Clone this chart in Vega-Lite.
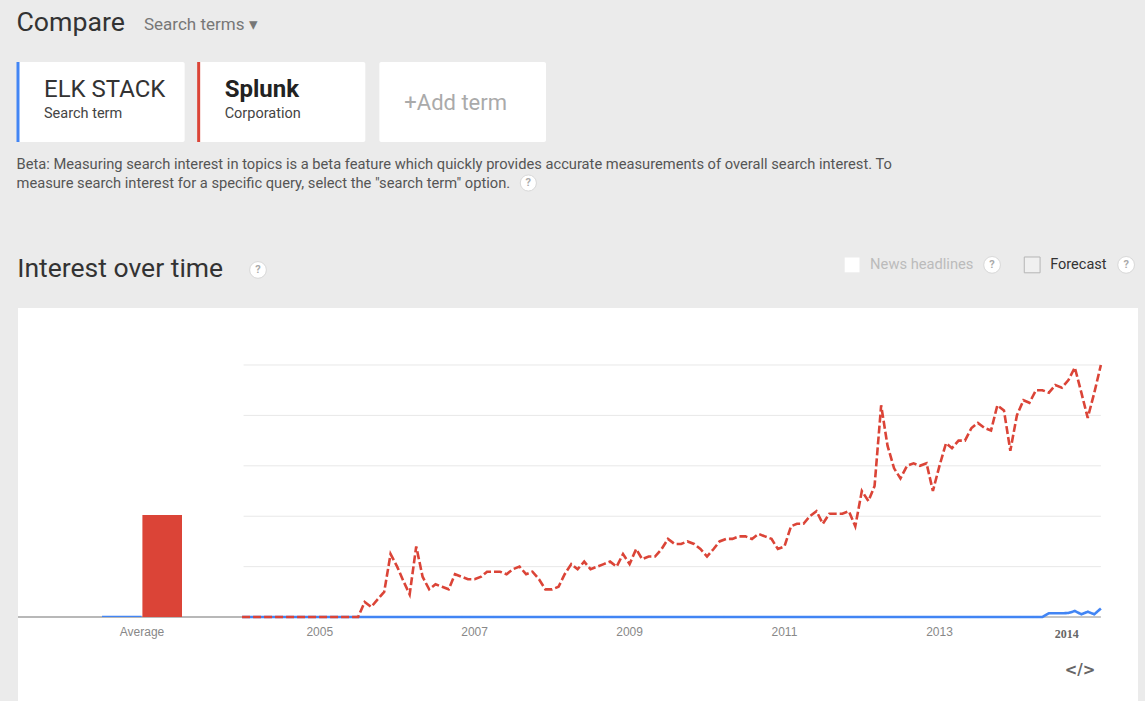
{
  "$schema": "https://vega.github.io/schema/vega-lite/v6.json",
  "background": "#ebebeb",
  "padding": {"left": 16, "top": 10, "right": 9, "bottom": 0},
  "bounds": "flush",
  "spacing": 166,
  "title": {"text": "Compare", "anchor": "start", "fontSize": 26.7, "fontWeight": "normal", "font": "Roboto", "color": "#333", "offset": -21},
  "config": {"view": {"stroke": null}, "font": "Roboto",
    "axisX": {"offset": -84, "domain": false, "ticks": false, "grid": false, "labelPadding": 9, "labelColor": "#888", "labelFontSize": 12, "labelFont": "Liberation Sans", "labelAngle": 0}},
  "datasets": {
    "trends": [
      {"month": "2004-01-01", "ELK STACK": 0, "Splunk": 0},
      {"month": "2004-02-01", "ELK STACK": 0, "Splunk": 0},
      {"month": "2004-03-01", "ELK STACK": 0, "Splunk": 0},
      {"month": "2004-04-01", "ELK STACK": 0, "Splunk": 0},
      {"month": "2004-05-01", "ELK STACK": 0, "Splunk": 0},
      {"month": "2004-06-01", "ELK STACK": 0, "Splunk": 0},
      {"month": "2004-07-01", "ELK STACK": 0, "Splunk": 0},
      {"month": "2004-08-01", "ELK STACK": 0, "Splunk": 0},
      {"month": "2004-09-01", "ELK STACK": 0, "Splunk": 0},
      {"month": "2004-10-01", "ELK STACK": 0, "Splunk": 0},
      {"month": "2004-11-01", "ELK STACK": 0, "Splunk": 0},
      {"month": "2004-12-01", "ELK STACK": 0, "Splunk": 0},
      {"month": "2005-01-01", "ELK STACK": 0, "Splunk": 0},
      {"month": "2005-02-01", "ELK STACK": 0, "Splunk": 0},
      {"month": "2005-03-01", "ELK STACK": 0, "Splunk": 0},
      {"month": "2005-04-01", "ELK STACK": 0, "Splunk": 0},
      {"month": "2005-05-01", "ELK STACK": 0, "Splunk": 0},
      {"month": "2005-06-01", "ELK STACK": 0, "Splunk": 0},
      {"month": "2005-07-01", "ELK STACK": 0, "Splunk": 0},
      {"month": "2005-08-01", "ELK STACK": 0, "Splunk": 6},
      {"month": "2005-09-01", "ELK STACK": 0, "Splunk": 4},
      {"month": "2005-10-01", "ELK STACK": 0, "Splunk": 7},
      {"month": "2005-11-01", "ELK STACK": 0, "Splunk": 10},
      {"month": "2005-12-01", "ELK STACK": 0, "Splunk": 25},
      {"month": "2006-01-01", "ELK STACK": 0, "Splunk": 20},
      {"month": "2006-02-01", "ELK STACK": 0, "Splunk": 14},
      {"month": "2006-03-01", "ELK STACK": 0, "Splunk": 9},
      {"month": "2006-04-01", "ELK STACK": 0, "Splunk": 28},
      {"month": "2006-05-01", "ELK STACK": 0, "Splunk": 16},
      {"month": "2006-06-01", "ELK STACK": 0, "Splunk": 11},
      {"month": "2006-07-01", "ELK STACK": 0, "Splunk": 13},
      {"month": "2006-08-01", "ELK STACK": 0, "Splunk": 12},
      {"month": "2006-09-01", "ELK STACK": 0, "Splunk": 11},
      {"month": "2006-10-01", "ELK STACK": 0, "Splunk": 17},
      {"month": "2006-11-01", "ELK STACK": 0, "Splunk": 16},
      {"month": "2006-12-01", "ELK STACK": 0, "Splunk": 15},
      {"month": "2007-01-01", "ELK STACK": 0, "Splunk": 15},
      {"month": "2007-02-01", "ELK STACK": 0, "Splunk": 16},
      {"month": "2007-03-01", "ELK STACK": 0, "Splunk": 18},
      {"month": "2007-04-01", "ELK STACK": 0, "Splunk": 18},
      {"month": "2007-05-01", "ELK STACK": 0, "Splunk": 18},
      {"month": "2007-06-01", "ELK STACK": 0, "Splunk": 17},
      {"month": "2007-07-01", "ELK STACK": 0, "Splunk": 19},
      {"month": "2007-08-01", "ELK STACK": 0, "Splunk": 20},
      {"month": "2007-09-01", "ELK STACK": 0, "Splunk": 17},
      {"month": "2007-10-01", "ELK STACK": 0, "Splunk": 18},
      {"month": "2007-11-01", "ELK STACK": 0, "Splunk": 15},
      {"month": "2007-12-01", "ELK STACK": 0, "Splunk": 11},
      {"month": "2008-01-01", "ELK STACK": 0, "Splunk": 11},
      {"month": "2008-02-01", "ELK STACK": 0, "Splunk": 12},
      {"month": "2008-03-01", "ELK STACK": 0, "Splunk": 17},
      {"month": "2008-04-01", "ELK STACK": 0, "Splunk": 21},
      {"month": "2008-05-01", "ELK STACK": 0, "Splunk": 19},
      {"month": "2008-06-01", "ELK STACK": 0, "Splunk": 22},
      {"month": "2008-07-01", "ELK STACK": 0, "Splunk": 19},
      {"month": "2008-08-01", "ELK STACK": 0, "Splunk": 20},
      {"month": "2008-09-01", "ELK STACK": 0, "Splunk": 21},
      {"month": "2008-10-01", "ELK STACK": 0, "Splunk": 22},
      {"month": "2008-11-01", "ELK STACK": 0, "Splunk": 20},
      {"month": "2008-12-01", "ELK STACK": 0, "Splunk": 25},
      {"month": "2009-01-01", "ELK STACK": 0, "Splunk": 21},
      {"month": "2009-02-01", "ELK STACK": 0, "Splunk": 27},
      {"month": "2009-03-01", "ELK STACK": 0, "Splunk": 23},
      {"month": "2009-04-01", "ELK STACK": 0, "Splunk": 24},
      {"month": "2009-05-01", "ELK STACK": 0, "Splunk": 24},
      {"month": "2009-06-01", "ELK STACK": 0, "Splunk": 27},
      {"month": "2009-07-01", "ELK STACK": 0, "Splunk": 31},
      {"month": "2009-08-01", "ELK STACK": 0, "Splunk": 29},
      {"month": "2009-09-01", "ELK STACK": 0, "Splunk": 29},
      {"month": "2009-10-01", "ELK STACK": 0, "Splunk": 30},
      {"month": "2009-11-01", "ELK STACK": 0, "Splunk": 29},
      {"month": "2009-12-01", "ELK STACK": 0, "Splunk": 27},
      {"month": "2010-01-01", "ELK STACK": 0, "Splunk": 24},
      {"month": "2010-02-01", "ELK STACK": 0, "Splunk": 27},
      {"month": "2010-03-01", "ELK STACK": 0, "Splunk": 30},
      {"month": "2010-04-01", "ELK STACK": 0, "Splunk": 31},
      {"month": "2010-05-01", "ELK STACK": 0, "Splunk": 31},
      {"month": "2010-06-01", "ELK STACK": 0, "Splunk": 32},
      {"month": "2010-07-01", "ELK STACK": 0, "Splunk": 32},
      {"month": "2010-08-01", "ELK STACK": 0, "Splunk": 31},
      {"month": "2010-09-01", "ELK STACK": 0, "Splunk": 33},
      {"month": "2010-10-01", "ELK STACK": 0, "Splunk": 32},
      {"month": "2010-11-01", "ELK STACK": 0, "Splunk": 31},
      {"month": "2010-12-01", "ELK STACK": 0, "Splunk": 27},
      {"month": "2011-01-01", "ELK STACK": 0, "Splunk": 28},
      {"month": "2011-02-01", "ELK STACK": 0, "Splunk": 36},
      {"month": "2011-03-01", "ELK STACK": 0, "Splunk": 37},
      {"month": "2011-04-01", "ELK STACK": 0, "Splunk": 37},
      {"month": "2011-05-01", "ELK STACK": 0, "Splunk": 40},
      {"month": "2011-06-01", "ELK STACK": 0, "Splunk": 42},
      {"month": "2011-07-01", "ELK STACK": 0, "Splunk": 37},
      {"month": "2011-08-01", "ELK STACK": 0, "Splunk": 41},
      {"month": "2011-09-01", "ELK STACK": 0, "Splunk": 41},
      {"month": "2011-10-01", "ELK STACK": 0, "Splunk": 41},
      {"month": "2011-11-01", "ELK STACK": 0, "Splunk": 42},
      {"month": "2011-12-01", "ELK STACK": 0, "Splunk": 36},
      {"month": "2012-01-01", "ELK STACK": 0, "Splunk": 50},
      {"month": "2012-02-01", "ELK STACK": 0, "Splunk": 46},
      {"month": "2012-03-01", "ELK STACK": 0, "Splunk": 52},
      {"month": "2012-04-01", "ELK STACK": 0, "Splunk": 84},
      {"month": "2012-05-01", "ELK STACK": 0, "Splunk": 68},
      {"month": "2012-06-01", "ELK STACK": 0, "Splunk": 59},
      {"month": "2012-07-01", "ELK STACK": 0, "Splunk": 55},
      {"month": "2012-08-01", "ELK STACK": 0, "Splunk": 60},
      {"month": "2012-09-01", "ELK STACK": 0, "Splunk": 61},
      {"month": "2012-10-01", "ELK STACK": 0, "Splunk": 60},
      {"month": "2012-11-01", "ELK STACK": 0, "Splunk": 61},
      {"month": "2012-12-01", "ELK STACK": 0, "Splunk": 50},
      {"month": "2013-01-01", "ELK STACK": 0, "Splunk": 60},
      {"month": "2013-02-01", "ELK STACK": 0, "Splunk": 69},
      {"month": "2013-03-01", "ELK STACK": 0, "Splunk": 67},
      {"month": "2013-04-01", "ELK STACK": 0, "Splunk": 70},
      {"month": "2013-05-01", "ELK STACK": 0, "Splunk": 70},
      {"month": "2013-06-01", "ELK STACK": 0, "Splunk": 75},
      {"month": "2013-07-01", "ELK STACK": 0, "Splunk": 77},
      {"month": "2013-08-01", "ELK STACK": 0, "Splunk": 75},
      {"month": "2013-09-01", "ELK STACK": 0, "Splunk": 74},
      {"month": "2013-10-01", "ELK STACK": 0, "Splunk": 84},
      {"month": "2013-11-01", "ELK STACK": 0, "Splunk": 82},
      {"month": "2013-12-01", "ELK STACK": 0, "Splunk": 66},
      {"month": "2014-01-01", "ELK STACK": 0, "Splunk": 80},
      {"month": "2014-02-01", "ELK STACK": 0, "Splunk": 86},
      {"month": "2014-03-01", "ELK STACK": 0, "Splunk": 85},
      {"month": "2014-04-01", "ELK STACK": 0, "Splunk": 90},
      {"month": "2014-05-01", "ELK STACK": 0, "Splunk": 90},
      {"month": "2014-06-01", "ELK STACK": 1.5, "Splunk": 89},
      {"month": "2014-07-01", "ELK STACK": 1.5, "Splunk": 92},
      {"month": "2014-08-01", "ELK STACK": 1.5, "Splunk": 91},
      {"month": "2014-09-01", "ELK STACK": 1.6, "Splunk": 94},
      {"month": "2014-10-01", "ELK STACK": 2.4, "Splunk": 99},
      {"month": "2014-11-01", "ELK STACK": 1.1, "Splunk": 89},
      {"month": "2014-12-01", "ELK STACK": 2.1, "Splunk": 79},
      {"month": "2015-01-01", "ELK STACK": 1.1, "Splunk": 89},
      {"month": "2015-02-01", "ELK STACK": 3.4, "Splunk": 100}
    ]
  },
  "vconcat": [
    {
      "width": 528,
      "height": 80,
      "title": {"text": ["Beta: Measuring search interest in topics is a beta feature which quickly provides accurate measurements of overall search interest. To", "measure search interest for a specific query, select the \"search term\" option."], "orient": "bottom", "anchor": "start", "fontSize": 14.7, "fontWeight": "normal", "font": "Roboto", "color": "#555", "offset": -36, "lineHeight": 19},
      "data": {"values": [
        {"term": "ELK STACK", "kind": "Search term"},
        {"term": "Splunk", "kind": "Corporation"},
        {"term": "+Add term", "kind": ""}
      ]},
      "encoding": {"x": {"field": "term", "type": "nominal", "sort": null, "axis": null, "scale": {"paddingInner": 0.0775, "paddingOuter": 0}}},
      "layer": [
        {"mark": {"type": "rect", "fill": "white", "cornerRadius": 2}},
        {"transform": [{"filter": "datum.kind != ''"}],
         "mark": {"type": "rule", "strokeWidth": 3},
         "encoding": {"x": {"field": "term", "type": "nominal", "sort": null, "bandPosition": 0},
           "color": {"field": "term", "type": "nominal", "scale": {"domain": ["ELK STACK", "Splunk"], "range": ["#4285f4", "#db4437"]}, "legend": null}}},
        {"transform": [{"filter": "datum.term == 'ELK STACK'"}],
         "mark": {"type": "text", "align": "left", "baseline": "middle", "dx": 26, "dy": -12, "fontSize": 24, "color": "#333", "font": "Roboto"},
         "encoding": {"x": {"field": "term", "type": "nominal", "sort": null, "bandPosition": 0}, "text": {"field": "term"}}},
        {"transform": [{"filter": "datum.term == 'Splunk'"}],
         "mark": {"type": "text", "align": "left", "baseline": "middle", "dx": 26, "dy": -12, "fontSize": 24, "fontWeight": "bold", "color": "#222", "font": "Roboto"},
         "encoding": {"x": {"field": "term", "type": "nominal", "sort": null, "bandPosition": 0}, "text": {"field": "term"}}},
        {"transform": [{"filter": "datum.kind != ''"}],
         "mark": {"type": "text", "align": "left", "baseline": "middle", "dx": 26, "dy": 12, "fontSize": 14.5, "color": "#444", "font": "Roboto"},
         "encoding": {"x": {"field": "term", "type": "nominal", "sort": null, "bandPosition": 0}, "text": {"field": "kind"}}},
        {"transform": [{"filter": "datum.kind == ''"}],
         "mark": {"type": "text", "align": "center", "baseline": "middle", "dx": -7, "dy": 1, "fontSize": 22, "color": "#aaa", "font": "Roboto"},
         "encoding": {"text": {"field": "term"}}},
        {"transform": [{"filter": "datum.term == 'ELK STACK'"}],
         "mark": {"type": "text", "align": "left", "baseline": "middle", "dx": 126, "dy": -77, "fontSize": 17, "color": "#777", "font": "Roboto"},
         "encoding": {"x": {"field": "term", "type": "nominal", "sort": null, "bandPosition": 0}, "text": {"value": "Search terms ▾"}}},
        {"transform": [{"filter": "datum.kind == ''"}],
         "mark": {"type": "point", "shape": "circle", "size": 260, "fill": "white", "stroke": "#d8d8d8", "strokeWidth": 1, "opacity": 1, "xOffset": 149, "yOffset": 81},
         "encoding": {"x": {"field": "term", "type": "nominal", "sort": null, "bandPosition": 0}}},
        {"transform": [{"filter": "datum.kind == ''"}],
         "mark": {"type": "text", "align": "center", "baseline": "middle", "dx": 149, "dy": 81, "fontSize": 11, "fontWeight": "bold", "color": "#aaa"},
         "encoding": {"x": {"field": "term", "type": "nominal", "sort": null, "bandPosition": 0}, "text": {"value": "?"}}}
      ]
    },
    {
      "bounds": "flush",
      "spacing": 0,
      "title": {"text": "Interest over time", "anchor": "start", "fontSize": 26.5, "fontWeight": "normal", "font": "Roboto", "color": "#333", "offset": -28},
      "hconcat": [
        {
          "width": 226,
          "height": 393,
          "view": {"fill": "white", "stroke": null},
          "data": {"values": [
            {"period": "Average", "term": "ELK STACK", "average": 0.5},
            {"period": "Average", "term": "Splunk", "average": 40.5}
          ]},
          "layer": [
            {"mark": {"type": "rule", "color": "#b3b3b3", "strokeWidth": 1.5},
             "encoding": {"y": {"datum": 0, "type": "quantitative", "scale": {"domain": [-33.3, 122.6], "nice": false, "zero": false}, "axis": null}}},
            {"mark": {"type": "bar"},
             "encoding": {
               "x": {"field": "period", "type": "nominal", "scale": {"range": [84, 164], "paddingInner": 0, "paddingOuter": 0}, "axis": {"title": null}},
               "xOffset": {"field": "term", "type": "nominal", "scale": {"paddingInner": 0.02}},
               "y": {"field": "average", "type": "quantitative", "scale": {"domain": [-33.3, 122.6], "nice": false, "zero": false}, "axis": null},
               "color": {"field": "term", "type": "nominal", "scale": {"domain": ["ELK STACK", "Splunk"], "range": ["#4285f4", "#db4437"]}, "legend": null}
             }}
          ]
        },
        {
          "width": 894,
          "height": 393,
          "view": {"fill": "white", "stroke": null},
          "layer": [
            {"data": {"values": [{"level": 20}, {"level": 40}, {"level": 60}, {"level": 80}, {"level": 100}]},
             "mark": {"type": "rule", "color": "#e8e8e8", "strokeWidth": 1},
             "encoding": {
               "y": {"field": "level", "type": "quantitative", "scale": {"domain": [-33.3, 122.6], "nice": false, "zero": false}, "axis": null},
               "x": {"datum": {"year": 2004, "month": 1, "date": 8}, "type": "temporal", "axis": null},
               "x2": {"datum": {"year": 2015, "month": 2, "date": 1}}
             }},
            {"data": {"values": [{}]},
             "mark": {"type": "rule", "color": "#b3b3b3", "strokeWidth": 1.5},
             "encoding": {
               "y": {"datum": 0, "type": "quantitative", "axis": null},
               "x": {"datum": {"year": 2004, "month": 1, "date": 8}, "type": "temporal", "axis": null},
               "x2": {"datum": {"year": 2015, "month": 2, "date": 1}}
             }},
            {"data": {"name": "trends"},
             "transform": [{"fold": ["ELK STACK", "Splunk"], "as": ["term", "value"]}],
             "mark": {"type": "line", "strokeWidth": 2.6},
             "encoding": {
               "x": {"field": "month", "type": "temporal",
                 "scale": {"domain": [{"year": 2004, "month": 1, "date": 10}, {"year": 2015, "month": 7, "date": 26}], "nice": false},
                 "axis": null},
               "y": {"field": "value", "type": "quantitative", "scale": {"domain": [-33.3, 122.6], "nice": false, "zero": false}, "axis": null},
               "color": {"field": "term", "type": "nominal", "scale": {"domain": ["ELK STACK", "Splunk"], "range": ["#4285f4", "#db4437"]}, "legend": null},
               "strokeDash": {"field": "term", "type": "nominal", "scale": {"domain": ["ELK STACK", "Splunk"], "range": [[1, 0], [8, 3]]}, "legend": null}
             }},
            {"data": {"values": [
                {"tick": "2005-01-01", "label": "2005"},
                {"tick": "2007-01-01", "label": "2007"},
                {"tick": "2009-01-01", "label": "2009"},
                {"tick": "2011-01-01", "label": "2011"},
                {"tick": "2013-01-01", "label": "2013"}
             ]},
             "mark": {"type": "text", "fontSize": 12, "color": "#888", "font": "Liberation Sans", "baseline": "middle"},
             "encoding": {
               "x": {"field": "tick", "type": "temporal", "axis": null},
               "y": {"datum": -6, "type": "quantitative", "axis": null},
               "text": {"field": "label"}
             }},
            {"data": {"values": [{"year": "2014"}]},
             "mark": {"type": "text", "fontSize": 12, "fontWeight": "bold", "color": "#666", "font": "Liberation Serif", "baseline": "middle"},
             "encoding": {
               "x": {"datum": {"year": 2014, "month": 8, "date": 24}, "type": "temporal", "axis": null},
               "y": {"datum": -6.7, "type": "quantitative", "axis": null},
               "text": {"field": "year"}
             }},
            {"data": {"values": [{}]},
             "mark": {"type": "text", "fontSize": 15, "fontWeight": "bold", "color": "#666", "font": "DejaVu Sans", "baseline": "middle"},
             "encoding": {
               "x": {"datum": {"year": 2014, "month": 10, "date": 26}, "type": "temporal", "axis": null},
               "y": {"datum": -21, "type": "quantitative", "axis": null},
               "text": {"value": "</>"}
             }},
            {"data": {"values": [{}]},
             "mark": {"type": "square", "size": 220, "fill": "white", "opacity": 1, "strokeWidth": 0},
             "encoding": {
               "x": {"datum": {"year": 2011, "month": 11, "date": 16}, "type": "temporal", "axis": null},
               "y": {"datum": 139.7, "type": "quantitative", "axis": null}
             }},
            {"data": {"values": [{}]},
             "mark": {"type": "text", "align": "left", "baseline": "middle", "fontSize": 14.7, "color": "#bbb", "font": "Roboto"},
             "encoding": {
               "x": {"datum": {"year": 2012, "month": 2, "date": 9}, "type": "temporal", "axis": null},
               "y": {"datum": 139.7, "type": "quantitative", "axis": null},
               "text": {"value": "News headlines"}
             }},
            {"data": {"values": [{}]},
             "mark": {"type": "square", "size": 250, "fill": "#f0f0f0", "stroke": "#b5b5b5", "strokeWidth": 1, "opacity": 1},
             "encoding": {
               "x": {"datum": {"year": 2014, "month": 3, "date": 14}, "type": "temporal", "axis": null},
               "y": {"datum": 139.7, "type": "quantitative", "axis": null}
             }},
            {"data": {"values": [{}]},
             "mark": {"type": "text", "align": "left", "baseline": "middle", "fontSize": 14.5, "color": "#333", "font": "Roboto"},
             "encoding": {
               "x": {"datum": {"year": 2014, "month": 6, "date": 7}, "type": "temporal", "axis": null},
               "y": {"datum": 139.7, "type": "quantitative", "axis": null},
               "text": {"value": "Forecast"}
             }},
            {"data": {"values": [{"icon": "?", "slot": "a"}, {"icon": "?", "slot": "b"}, {"icon": "?", "slot": "c"}]},
             "layer": [
               {"transform": [{"filter": "datum.slot == 'a'"}],
                "mark": {"type": "point", "shape": "circle", "size": 280, "fill": "white", "stroke": "#d8d8d8", "strokeWidth": 1, "opacity": 1},
                "encoding": {"x": {"datum": {"year": 2013, "month": 9, "date": 6}, "type": "temporal", "axis": null}, "y": {"datum": 139.7, "type": "quantitative", "axis": null}}},
               {"transform": [{"filter": "datum.slot == 'a'"}],
                "mark": {"type": "text", "fontSize": 11, "fontWeight": "bold", "color": "#aaa", "baseline": "middle"},
                "encoding": {"x": {"datum": {"year": 2013, "month": 9, "date": 6}, "type": "temporal", "axis": null}, "y": {"datum": 139.7, "type": "quantitative", "axis": null}, "text": {"field": "icon"}}},
               {"transform": [{"filter": "datum.slot == 'b'"}],
                "mark": {"type": "point", "shape": "circle", "size": 280, "fill": "white", "stroke": "#d8d8d8", "strokeWidth": 1, "opacity": 1},
                "encoding": {"x": {"datum": {"year": 2015, "month": 5, "date": 31}, "type": "temporal", "axis": null}, "y": {"datum": 139.7, "type": "quantitative", "axis": null}}},
               {"transform": [{"filter": "datum.slot == 'b'"}],
                "mark": {"type": "text", "fontSize": 11, "fontWeight": "bold", "color": "#aaa", "baseline": "middle"},
                "encoding": {"x": {"datum": {"year": 2015, "month": 5, "date": 31}, "type": "temporal", "axis": null}, "y": {"datum": 139.7, "type": "quantitative", "axis": null}, "text": {"field": "icon"}}},
               {"transform": [{"filter": "datum.slot == 'c'"}],
                "mark": {"type": "point", "shape": "circle", "size": 280, "fill": "white", "stroke": "#d8d8d8", "strokeWidth": 1, "opacity": 1},
                "encoding": {"x": {"datum": {"year": 2004, "month": 3, "date": 16}, "type": "temporal", "axis": null}, "y": {"datum": 137.7, "type": "quantitative", "axis": null}}},
               {"transform": [{"filter": "datum.slot == 'c'"}],
                "mark": {"type": "text", "fontSize": 11, "fontWeight": "bold", "color": "#aaa", "baseline": "middle"},
                "encoding": {"x": {"datum": {"year": 2004, "month": 3, "date": 16}, "type": "temporal", "axis": null}, "y": {"datum": 137.7, "type": "quantitative", "axis": null}, "text": {"field": "icon"}}}
             ]}
          ]
        }
      ]
    }
  ]
}
